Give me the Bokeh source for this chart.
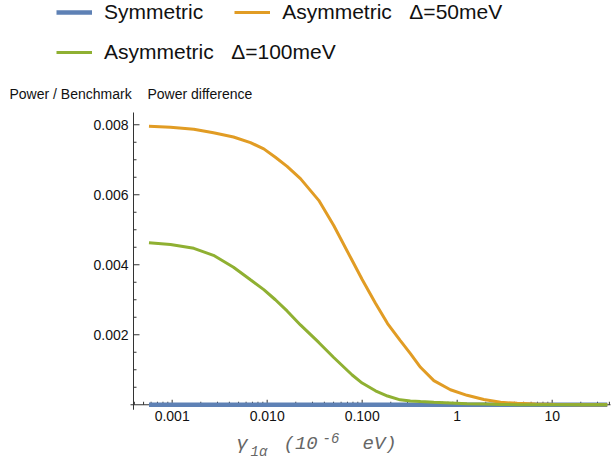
from bokeh.plotting import figure
from bokeh.models import Legend, LegendItem, Label, Range1d
from bokeh.core.properties import value
from bokeh.embed import file_html
from bokeh.resources import INLINE

# ---- data ----
gamma = [0.00057, 0.00096, 0.00169, 0.00272, 0.00442, 0.00667, 0.00921, 0.0122,
         0.0162, 0.0224, 0.0349, 0.0502, 0.0785, 0.1, 0.138, 0.185, 0.251, 0.322,
         0.411, 0.568, 0.849, 1.27, 1.91, 2.86, 4.28, 6.67, 10.8, 19.9, 38.0]
symmetric = [0.0, 0.0, 0.0, 0.0, 0.0, 0.0, 0.0, 0.0, 0.0, 0.0, 0.0, 0.0, 0.0, 0.0,
             0.0, 0.0, 0.0, 0.0, 0.0, 0.0, 0.0, 0.0, 0.0, 0.0, 0.0, 0.0, 0.0, 0.0, 0.0]
asym50 = [0.00796, 0.00793, 0.00787, 0.00777, 0.00765, 0.00749, 0.00731, 0.00707,
          0.00681, 0.00646, 0.00584, 0.00512, 0.00412, 0.00358, 0.00290, 0.00232,
          0.00184, 0.00146, 0.00107, 0.00069, 0.00043, 0.00027, 0.00015, 0.00007,
          0.00004, 0.00002, 0.00001, 0.0, 0.0]
asym100 = [0.00463, 0.00458, 0.00447, 0.00427, 0.00393, 0.00357, 0.00329, 0.00300,
           0.00268, 0.00228, 0.00178, 0.00135, 0.00085, 0.00062, 0.00040, 0.00025,
           0.00014, 0.00011, 0.00009, 0.00007, 0.00005, 0.00003, 0.00002, 0.00001,
           0.0, 0.0, 0.0, 0.0, 0.0]

series_labels = ["Symmetric", "Asymmetric\u00a0\u00a0\u00a0\u0394=50meV",
                 "Asymmetric\u00a0\u00a0\u00a0\u0394=100meV"]
x_major = [0.001, 0.01, 0.1, 1, 10]
x_tick_labels = ["0.001", "0.010", "0.100", "1", "10"]
y_major = [0.002, 0.004, 0.006, 0.008]
y_tick_labels = ["0.002", "0.004", "0.006", "0.008"]

BLUE = "#5E81B5"
ORANGE = "#E19C24"
GREEN = "#8FB032"
FONT = "Liberation Sans"
MONO = "Liberation Mono"
TXT = "#111111"
AX = "#333333"
GRAY = "#666666"

W, H = 612, 464
# the whole canvas is the plot frame; axes are drawn at the data origin
LOG_LO, LOG_HI = -4.807, 1.635       # log10 gamma at canvas left / right
Y_LO, Y_HI = -0.001707, 0.01155      # value at canvas bottom / top
DEC_PER_PX = (LOG_HI - LOG_LO) / W
VAL_PER_PX = (Y_HI - Y_LO) / H
X_ORIGIN = 10 ** -3.407              # where the vertical axis stands
X_AXIS_END = 10 ** 1.614
Y_AXIS_TOP = 0.00835

p = figure(width=W, height=H, x_axis_type="log",
           x_range=Range1d(10 ** LOG_LO, 10 ** LOG_HI), y_range=Range1d(Y_LO, Y_HI),
           output_backend="svg", toolbar_location=None,
           x_axis_location=None, y_axis_location=None, min_border=0)
p.grid.visible = False
p.outline_line_color = None

# ---- axes ----
x_minor = [k * 10.0 ** n for n in range(-4, 2) for k in range(2, 10)
           if X_ORIGIN < k * 10.0 ** n < X_AXIS_END]
y_minor = [i * 0.0005 for i in range(1, 17) if i % 4]

p.segment(x0=[X_ORIGIN * 10 ** (-3 * DEC_PER_PX)], y0=[0], x1=[X_AXIS_END], y1=[0],
          line_color=AX, line_width=1)
p.segment(x0=[X_ORIGIN], y0=[-5 * VAL_PER_PX], x1=[X_ORIGIN], y1=[Y_AXIS_TOP],
          line_color=AX, line_width=1)
p.segment(x0=x_major, y0=[0] * len(x_major), x1=x_major,
          y1=[5 * VAL_PER_PX] * len(x_major), line_color=AX, line_width=1)
p.segment(x0=x_minor, y0=[0] * len(x_minor), x1=x_minor,
          y1=[3 * VAL_PER_PX] * len(x_minor), line_color=AX, line_width=1)
p.segment(x0=[X_ORIGIN] * len(y_major), y0=y_major,
          x1=[X_ORIGIN * 10 ** (6 * DEC_PER_PX)] * len(y_major), y1=y_major,
          line_color=AX, line_width=1)
p.segment(x0=[X_ORIGIN] * len(y_minor), y0=y_minor,
          x1=[X_ORIGIN * 10 ** (3 * DEC_PER_PX)] * len(y_minor), y1=y_minor,
          line_color=AX, line_width=1)

p.text(x=x_major, y=[0] * len(x_major), text=x_tick_labels, y_offset=6,
       text_align="center", text_baseline="top", text_font=value(FONT),
       text_font_size="14px", text_color=TXT)
p.text(x=[X_ORIGIN] * len(y_major), y=y_major, text=y_tick_labels, x_offset=-5,
       text_align="right", text_baseline="middle", text_font=value(FONT),
       text_font_size="14px", text_color=TXT)

# ---- data lines ----
r_sym = p.line(gamma, symmetric, line_color=BLUE, line_width=4.5)
r_50 = p.line(gamma, asym50, line_color=ORANGE, line_width=3)
r_100 = p.line(gamma, asym100, line_color=GREEN, line_width=3)

# ---- captions ----
p.add_layout(Label(x=9, y=H - 93, x_units="screen", y_units="screen",
                   text="Power / Benchmark", text_font=FONT, text_font_size="14px",
                   text_baseline="middle", text_align="left", text_color=TXT))
p.add_layout(Label(x=147, y=H - 93, x_units="screen", y_units="screen",
                   text="Power difference", text_font=FONT, text_font_size="14px",
                   text_baseline="middle", text_align="left", text_color=TXT))

pieces = [("\u03b3", 236, 21, "19px"), ("1\u03b1", 250, 13, "14px"),
          ("(10", 283, 21, "19px"), ("-6", 322, 27, "14px"),
          ("eV)", 362, 21, "19px")]
for txt, sx, sy, fs in pieces:
    p.add_layout(Label(x=sx, y=sy, x_units="screen", y_units="screen", text=txt,
                       text_font=MONO, text_font_style="italic", text_font_size=fs,
                       text_baseline="middle", text_align="left", text_color=GRAY))


# ---- legend ----
def make_legend(items, loc):
    return Legend(items=items, location=loc, orientation="horizontal",
                  border_line_color=None, background_fill_alpha=0,
                  padding=0, margin=0, spacing=31, glyph_width=36, glyph_height=24,
                  label_height=24, label_standoff=12,
                  label_text_font=FONT, label_text_font_size="21px",
                  label_text_color=TXT)


p.add_layout(make_legend([LegendItem(label=series_labels[0], renderers=[r_sym]),
                          LegendItem(label=series_labels[1], renderers=[r_50])],
                         (56, H - 24)))
p.add_layout(make_legend([LegendItem(label=series_labels[2], renderers=[r_100])],
                         (56, H - 64)))

open("out.html", "w").write(file_html(p, INLINE))
